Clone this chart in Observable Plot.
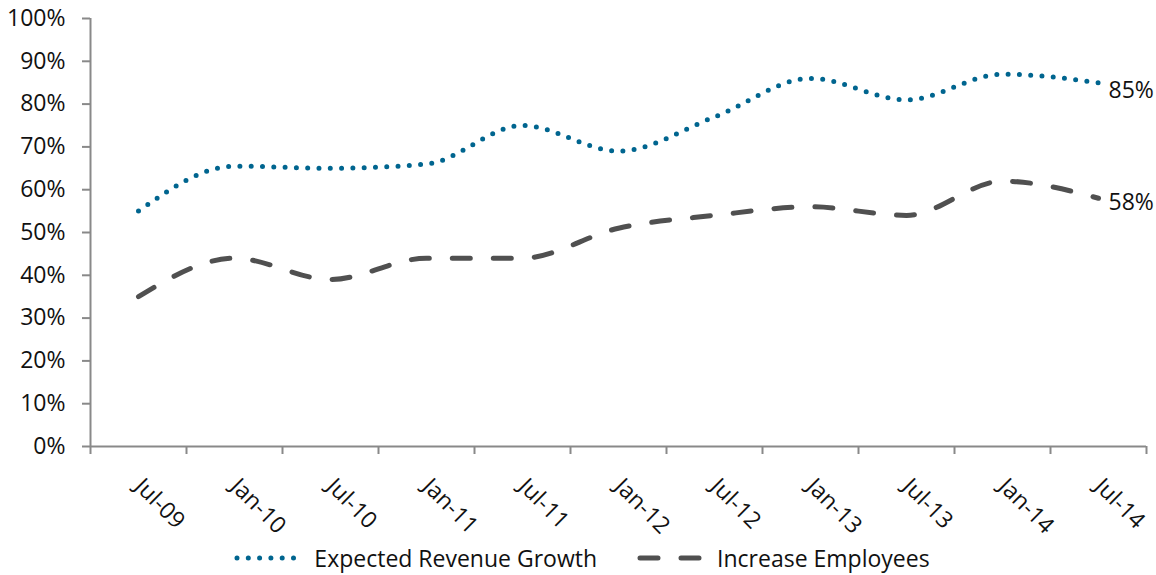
<!DOCTYPE html>
<html>
<head>
<meta charset="utf-8">
<script src="https://cdn.jsdelivr.net/npm/d3@7"></script>
<script src="https://cdn.jsdelivr.net/npm/@observablehq/plot@0.6"></script>
<style>
  html, body { margin: 0; padding: 0; background: #fff; }
  body { width: 1156px; height: 575px; overflow: hidden; font-family: "Open Sans", sans-serif; }
  #legend { display: flex; justify-content: center; align-items: center; gap: 40px; height: 35px; font-size: 23px; color: #111; margin-left: 8px; margin-top: 0px; }
  .item { display: flex; align-items: center; gap: 10px; }
</style>
</head>
<body>
<div id="chart"></div>
<div id="legend"></div>
<script>
const categories = ["Jul-09","Jan-10","Jul-10","Jan-11","Jul-11","Jan-12","Jul-12","Jan-13","Jul-13","Jan-14","Jul-14"];
const revenueGrowth = [55, 65.5, 65, 66, 75, 69, 77, 86, 81, 87, 85];
const increaseEmployees = [35, 44, 39, 44, 44, 51, 54, 56, 54, 62, 58];
const yTicks = [0, 10, 20, 30, 40, 50, 60, 70, 80, 90, 100];
const seriesNames = ["Expected Revenue Growth", "Increase Employees"];
const seriesColors = ["#00658f", "#505050"];

const data = categories.map((c, i) => ({i, c, revenue: revenueGrowth[i], employees: increaseEmployees[i]}));
const last = data[data.length - 1];
const boundaries = d3.range(-0.5, categories.length, 1);

const chart = Plot.plot({
  width: 1156,
  height: 540,
  marginLeft: 90,
  marginRight: 10,
  marginTop: 18,
  marginBottom: 94,
  x: {domain: [-0.5, categories.length - 0.5]},
  y: {domain: [0, 100]},
  style: {fontFamily: "Open Sans", fontSize: "23px", color: "#111", background: "white"},
  marks: [
    Plot.axisY({ticks: yTicks, tickFormat: d => d + "%", tickSize: 8, tickPadding: 17, stroke: "#898989", strokeWidth: 2, fill: "#111", fontSize: 23, label: null}),
    Plot.axisX({ticks: boundaries, tickSize: 8, tickFormat: () => "", stroke: "#898989", strokeWidth: 2, label: null}),
    Plot.axisX({ticks: d3.range(categories.length), tickFormat: i => categories[i], tickSize: 0, tickPadding: 36, tickRotate: 45, fill: "#111", fontSize: 23, label: null}),
    Plot.ruleY([0], {stroke: "#898989", strokeWidth: 2}),
    Plot.ruleX([-0.5], {stroke: "#898989", strokeWidth: 2}),
    Plot.line(data, {x: "i", y: "revenue", curve: "monotone-x", stroke: seriesColors[0], strokeWidth: 5, strokeDasharray: "0 11.3", strokeLinecap: "round"}),
    Plot.line(data, {x: "i", y: "employees", curve: "monotone-x", stroke: seriesColors[1], strokeWidth: 5, strokeDasharray: "18 23", strokeLinecap: "round"}),
    Plot.text([last], {x: "i", y: "revenue", text: d => d.revenue + "%", textAnchor: "start", dx: 10, dy: 8, fontSize: 23, fill: "#111"}),
    Plot.text([last], {x: "i", y: "employees", text: d => d.employees + "%", textAnchor: "start", dx: 10, dy: 4, fontSize: 23, fill: "#111"})
  ]
});
document.getElementById("chart").appendChild(chart);

const legend = document.getElementById("legend");
const dashes = ["0 11.3", "18 23"];
seriesNames.forEach((name, k) => {
  const item = document.createElement("div");
  item.className = "item";
  item.innerHTML = `<svg width="70" height="10"><line x1="3" y1="5" x2="68" y2="5" stroke="${seriesColors[k]}" stroke-width="5" stroke-linecap="round" stroke-dasharray="${dashes[k]}"/></svg><span>${name}</span>`;
  legend.appendChild(item);
});
</script>
</body>
</html>
